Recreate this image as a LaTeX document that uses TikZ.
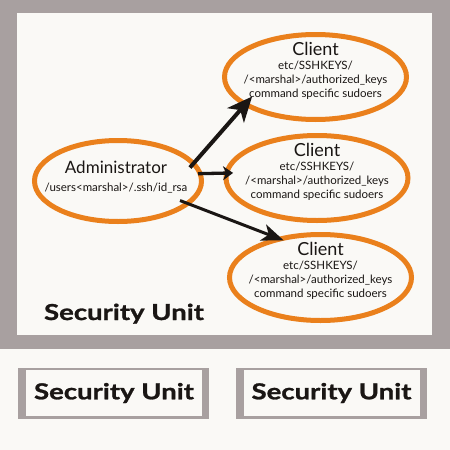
\documentclass[tikz,border=0pt]{standalone}
\usepackage{fontspec}
\setmainfont{Lato}
\newfontfamily\unitfont[FakeStretch=1.25, BoldFeatures={FakeBold=1.2}]{Lato}
\usetikzlibrary{arrows.meta,shapes.geometric,positioning}
\definecolor{paper}{RGB}{250,249,246}
\definecolor{frame}{RGB}{168,160,160}
\definecolor{ring}{RGB}{234,128,28}
\definecolor{ink}{RGB}{26,22,20}
\begin{document}
\begin{tikzpicture}[x=1pt, y=-1pt,
    hostring/.style={ellipse, draw=ring, line width=5pt, fill=paper, inner sep=0pt},
    clientring/.style={hostring, minimum width=182pt, minimum height=85pt},
    hosttext/.style={align=center, text=ink, inner sep=0pt, font=\fontsize{11.5}{13.8}\selectfont},
    unitlabel/.style={text=ink, inner sep=0pt, font=\unitfont\fontsize{22}{26}\selectfont\bfseries},
    unitbox/.style={fill=frame, minimum width=191pt, minimum height=51pt, inner sep=0pt},
    unitface/.style={fill=paper, minimum width=176pt, minimum height=46pt, inner sep=0pt, unitlabel},
    keyarrow/.style={ink, line width=3pt}
]
    % Page and outer frame
    \fill[paper] (0, 0) rectangle (450, 450);
    \fill[frame] (0, 0) rectangle (450, 349);
    \fill[paper] (17, 13) rectangle (432, 335);

    % Hosts
    \node[hostring, minimum width=167pt, minimum height=81pt] (admin) at (118, 181) {};
    \node[clientring] (c1) at (315.5, 77) {};
    \node[clientring] (c2) at (317, 178) {};
    \node[clientring, minimum height=86pt] (c3) at (320.5, 277.5) {};

    \node[hosttext] (admintext) at (116, 177)
        {{\fontsize{17}{19}\selectfont Administrator}\\[5pt]/users<marshal>/.ssh/id\_rsa};
    \foreach \c/\y in {c1/71, c2/172, c3/271} {
        \node[hosttext] (\c text) at (\c.center |- 0, \y)
            {{\fontsize{18}{20}\selectfont Client}\\etc/SSHKEYS/\\/<marshal>/authorized\_keys\\command specific sudoers};
    }

    % Key distribution
    \draw[keyarrow, line width=4pt, -{Stealth[length=25pt, width=22pt, inset=7pt]},
        shorten <=-7.6pt, shorten >=-12.5pt] (admin.14) -- (c1.202);
    \draw[keyarrow, line width=3.3pt, -{Stealth[length=10pt, width=14pt, inset=3pt]},
        shorten <=-4.7pt, shorten >=-9pt] (admin.5) -- (c2.177);
    \draw[keyarrow, -{Stealth[length=22pt, width=17pt, inset=6pt]},
        shorten <=-10.8pt, shorten >=-8.2pt] (admin.342) -- (c3.138);

    \node[unitlabel, anchor=base] (mainunit) at (124, 320) {Security Unit};

    % Other security units
    \node[unitbox] (su1box) at (113.5, 393.5) {};
    \node[unitface] (su1) at (114, 393) {Security Unit};
    \node[unitbox] (su2box) at (331.5, 393.5) {};
    \node[unitface] (su2) at (331.5, 393) {Security Unit};
\end{tikzpicture}
\end{document}
